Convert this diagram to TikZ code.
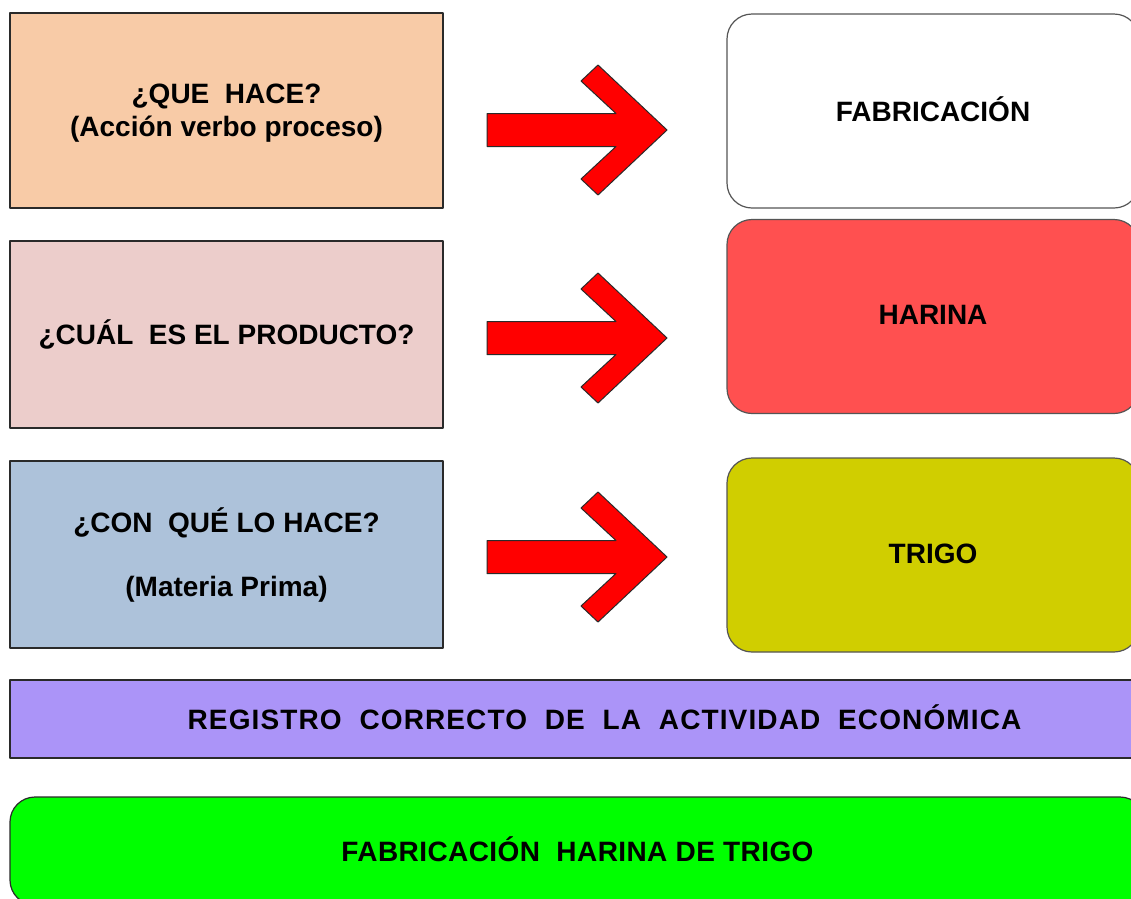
\documentclass[tikz,border=0pt]{standalone}
\usepackage{fontspec}
\setmainfont{Liberation Sans}
\newfontfamily\spacedfont{Liberation Sans}[LetterSpace=4]
\newfontfamily\lightspacedfont{Liberation Sans}[LetterSpace=1.5]
\usepackage{xcolor}
\usepackage{tikz}
\usetikzlibrary{positioning,calc}
\definecolor{peach}{HTML}{F8CBA7}
\definecolor{rosegray}{HTML}{ECCDCB}
\definecolor{steelblue}{HTML}{ADC2DA}
\definecolor{flourred}{HTML}{FF5050}
\definecolor{wheat}{HTML}{D0CE00}
\definecolor{lilac}{HTML}{AB94F8}
\definecolor{brightgreen}{HTML}{00FF00}
\definecolor{frame}{HTML}{2A2A2A}
\newcommand{\boxfont}{\fontsize{28}{33}\selectfont\bfseries}
\newcommand{\lift}[1]{\raisebox{3pt}{#1}}
\tikzset{
    every picture/.style={line join=round},
    askbox/.style={draw=frame,line width=1.2pt,minimum width=433pt,
      inner sep=0pt,font=\boxfont,align=center},
    answerbox/.style={draw=frame!80,line width=1.2pt,rounded corners=25pt,
      minimum width=412pt,minimum height=194pt,inner sep=0pt,font=\boxfont,align=center},
    bandbox/.style={draw=frame,line width=1.2pt,inner sep=0pt,
      font=\boxfont,align=center},
    blockarrow/.style={fill=red,draw=frame,line width=1pt}
}
\begin{document}
\begin{tikzpicture}[x=1pt,y=-1pt]
  \clip (0,0) rectangle (1131,898);
  \fill[white] (0,0) rectangle (1131,898);
  % questions
  \node[askbox,fill=peach,minimum height=195pt,text depth=0pt] (que) at (226.5,110.5)
    {¿QUE\ \ HACE?\\(Acción verbo proceso)};
  \node[askbox,fill=rosegray,minimum height=187pt] (cual) at (226.5,334.5)
    {\lift{¿CUÁL\ \ ES EL PRODUCTO?}};
  \node[askbox,fill=steelblue,minimum height=187pt] (conque) at (226.5,554.5)
    {¿CON\ \ QUÉ LO HACE?\\[31pt](Materia Prima)};
  % answers
  \node[answerbox,fill=white] (fab) at (933,111) {\lift{FABRICACIÓN}};
  \node[answerbox,fill=flourred] (harina) at (933,316.5) {\lift{HARINA}};
  \node[answerbox,fill=wheat] (trigo) at (933,555) {\lift{TRIGO}};
  \foreach \ay in {130,338,557} {
    \draw[blockarrow,shift={(667,\ay)}] (-180,-16.5) -- (-51,-16.5) -- (-86,-49)
      -- (-69,-65) -- (0,0) -- (-69,65) -- (-86,49) -- (-51,16.5) -- (-180,16.5) -- cycle;
  }
  % summary bands
  \node[bandbox,fill=lilac,minimum width=1189pt,minimum height=78pt] (registro) at (604.5,719)
    {\lift{\spacedfont REGISTRO\ \ CORRECTO\ \ DE\ \ LA\ \ ACTIVIDAD\ \ ECONÓMICA}};
  \node[bandbox,fill=brightgreen,rounded corners=25pt,minimum width=1135pt,
    minimum height=108pt] (actividad) at (577.5,851)
    {\lift{\lightspacedfont FABRICACIÓN\ \ HARINA DE TRIGO}};
\end{tikzpicture}
\end{document}
